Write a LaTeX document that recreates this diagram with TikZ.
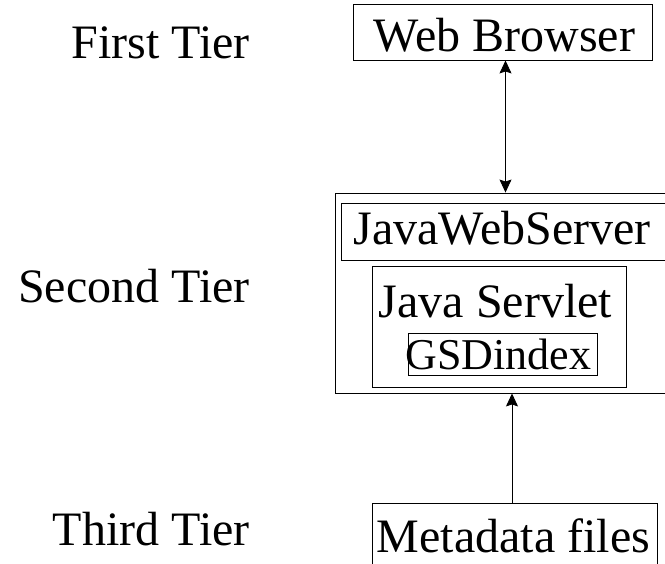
\documentclass[tikz,border=0pt]{standalone}
\usepackage{fontspec}
\setmainfont{Liberation Serif}
\usetikzlibrary{arrows.meta}
\tikzset{
  box/.style={draw, line width=0.9pt, rectangle, inner sep=0pt},
  txt/.style={font=\fontsize{48}{52}\selectfont, inner sep=0pt, anchor=base},
  smalltxt/.style={font=\fontsize{44}{48}\selectfont, inner sep=0pt, anchor=base},
  tier/.style={font=\fontsize{48}{52}\selectfont, inner sep=0pt, anchor=base east},
  arr/.style={line width=0.9pt, -{Stealth[length=13pt,width=12pt,inset=2pt]}},
  darr/.style={line width=0.9pt, {Stealth[length=13pt,width=12pt,inset=2pt]}-{Stealth[length=13pt,width=12pt,inset=2pt]}}
}
\begin{document}
\begin{tikzpicture}[x=1pt,y=-1pt]
\useasboundingbox (0,0) rectangle (665,564);
\clip (0,0) rectangle (665,564);
% boxes
\node[box, minimum width=299pt, minimum height=56pt] (wb) at (502.5,32) {};
\node[box, minimum width=340pt, minimum height=200pt] (srv) at (505,293) {};
\node[box, minimum width=334pt, minimum height=57pt] (jws) at (508,231.5) {};
\node[box, minimum width=254pt, minimum height=121pt] (jsv) at (499,326.5) {};
\node[box, minimum width=189pt, minimum height=42pt] (gsd) at (502.5,354) {};
\node[box, minimum width=285pt, minimum height=72pt] (md) at (514.5,539) {};
% texts
\node[txt] (twb) at (504.5,52) {Web Browser};
\node[txt] (tjws) at (502,245) {JavaWebServer};
\node[txt] (tjsv) at (495.5,318) {Java Servlet};
\node[smalltxt] (tgsd) at (498.5,370) {GSDindex};
\node[txt] (tmd) at (513.5,552) {Metadata files};
% tier labels
\node[tier] (t1) at (250,59) {First Tier};
\node[tier] (t2) at (250,303) {Second Tier};
\node[tier] (t3) at (250,545) {Third Tier};
% connectors
\draw[darr] ([xshift=3pt]wb.south) -- ([xshift=3pt]wb.south |- srv.north);
\draw[arr] ([xshift=-2.5pt]md.north) -- ([xshift=-2.5pt]md.north |- srv.south);
\end{tikzpicture}
\end{document}
